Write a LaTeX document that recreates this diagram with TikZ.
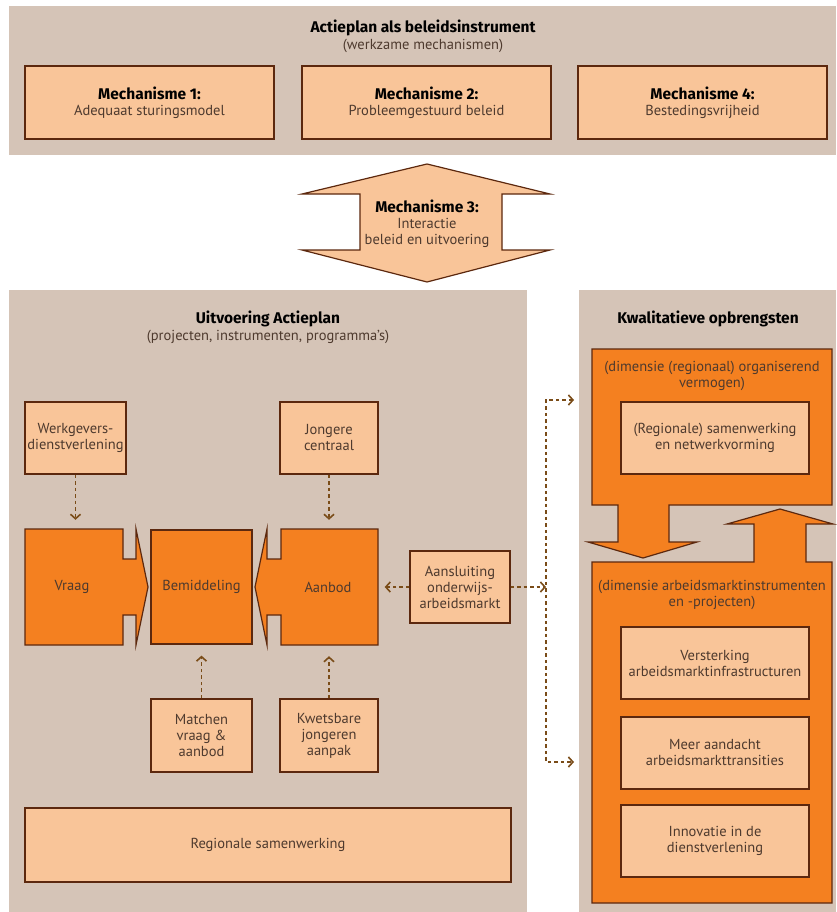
\documentclass[tikz,border=0pt]{standalone}
\usepackage{fontspec}
\setmainfont{PT Sans}
\newfontfamily\headfont{Fira Sans}
\usetikzlibrary{arrows.meta,positioning,calc}

\definecolor{panelbg}{RGB}{213,196,183}
\definecolor{lightfill}{RGB}{249,197,153}
\definecolor{orangefill}{RGB}{244,128,32}
\definecolor{edgebrown}{RGB}{92,40,14}
\definecolor{textbrown}{RGB}{78,58,46}
\definecolor{dashbrown}{RGB}{122,76,24}

\newcommand{\mechhead}[1]{\textcolor{black}{\fontsize{15.5}{17}\selectfont\headfont\bfseries #1}}

\begin{document}
\begin{tikzpicture}[x=1pt, y=-1pt, >={Straight Barb[length=4.5pt,width=10pt]},
  font=\fontsize{14.5}{16}\selectfont, text=textbrown]
\tikzstyle{lightbox}=[draw=edgebrown, fill=lightfill, line width=1.2pt, align=center, inner sep=2pt]
\tikzstyle{orangeshape}=[draw=edgebrown, fill=orangefill, line width=1.2pt, line join=miter]
\tikzstyle{paneltitle}=[font=\fontsize{15.5}{17}\selectfont\headfont\bfseries, text=black]
\tikzstyle{dline}=[dashbrown, line width=1.6pt, dash pattern=on 3.5pt off 3pt]
\useasboundingbox (0,0) rectangle (836,912);

% panels
\fill[panelbg] (9,6) rectangle (836,155);
\fill[panelbg] (9,290) rectangle (527,912);
\fill[panelbg] (579,290) rectangle (836,912);

% top: mechanisms
\node[paneltitle] (tplan) at (423,28) {Actieplan als beleidsinstrument};
\node (tplansub) at (423,46) {(werkzame mechanismen)};
\node[lightbox, minimum width=249, minimum height=73] (mech1) at (149.5,102.5)
  {\mechhead{Mechanisme 1:}\\Adequaat sturingsmodel};
\node[lightbox, minimum width=249, minimum height=73] (mech2) at (426.5,102.5)
  {\mechhead{Mechanisme 2:}\\Probleemgestuurd beleid};
\node[lightbox, minimum width=249, minimum height=73] (mech4) at (702.5,102.5)
  {\mechhead{Mechanisme 4:}\\Bestedingsvrijheid};

% double arrow
\draw[draw=edgebrown, fill=lightfill, line width=1.2pt]
  (427,164) -- (550,194) -- (502,194) -- (502,250) -- (550,250) -- (427,282)
  -- (302,250) -- (360,250) -- (360,194) -- (302,194) -- cycle;
\node[align=center] (mech3) at (427,224)
  {\mechhead{Mechanisme 3:}\\Interactie\\beleid en uitvoering};

% left panel
\node[paneltitle] (tuitv) at (268,319) {Uitvoering Actieplan};
\node (tuitvsub) at (268,337) {(projecten, instrumenten, programma's)};

\node[lightbox, minimum width=101, minimum height=72] (werkg) at (75.5,438)
  {Werkgevers-\\dienstverlening};
\node[lightbox, minimum width=98, minimum height=72] (jong) at (329,438)
  {Jongere\\centraal};

\draw[orangeshape] (25,529) -- (123,529) -- (123,559) -- (136,559) -- (136,529)
  -- (148,587) -- (136,645) -- (136,615) -- (123,615) -- (123,645) -- (25,645) -- cycle;
\node[minimum width=98, minimum height=116] (vraag) at (72,587) {Vraag};
\draw[orangeshape] (378,529) -- (281,529) -- (281,559) -- (267,559) -- (267,529)
  -- (255,587) -- (267,645) -- (267,615) -- (281,615) -- (281,645) -- (378,645) -- cycle;
\node[minimum width=97, minimum height=116] (aanbod) at (328,587) {Aanbod};
\node[orangeshape, minimum width=101, minimum height=114] (bemid) at (201.5,587) {Bemiddeling};

\node[lightbox, minimum width=100, minimum height=72] (aansl) at (460,587)
  {Aansluiting\\onderwijs-\\arbeidsmarkt};
\node[lightbox, minimum width=101, minimum height=73] (match) at (201.5,735.5)
  {Matchen\\vraag \&\\aanbod};
\node[lightbox, minimum width=98, minimum height=73] (kwets) at (329,735.5)
  {Kwetsbare\\jongeren\\aanpak};
\node[lightbox, minimum width=486, minimum height=74] (regio) at (268,845)
  {Regionale samenwerking};

\draw[dline, ->, shorten >=9pt] (werkg.south) -- (werkg.south |- vraag.north);
\draw[dline, ->, shorten >=9pt] (jong.south) -- (jong.south |- aanbod.north);
\draw[dline, ->, shorten >=11pt] (match.north) -- (bemid.south);
\draw[dline, ->, shorten >=11pt] (kwets.north) -- (kwets.north |- aanbod.south);
\draw[dline, ->, shorten >=8pt] (aansl.west) -- (aanbod.east);

% links to the right panel
\coordinate (splitmid) at (546,587);
\coordinate (splittop) at (574,400);
\coordinate (splitbot) at (574,762);
\draw[dline, ->] (aansl.east) -- (splitmid);
\draw[dline, <->] (splittop) -| (splitbot -| splitmid) -- (splitbot);

% right panel
\node[paneltitle] (tkwal) at (708,319) {Kwalitatieve opbrengsten};
\draw[orangeshape] (592,349) -- (832,349) -- (832,505) -- (669,505) -- (669,542)
  -- (697,542) -- (643,558) -- (588,542) -- (618,542) -- (618,505) -- (592,505) -- cycle;
\draw[orangeshape] (592,562) -- (754,562) -- (754,524) -- (727,524) -- (780,509)
  -- (833,524) -- (806,524) -- (806,562) -- (832,562) -- (832,903) -- (592,903) -- cycle;
\node[align=center] (dimorg) at (712,376) {(dimensie (regionaal) organiserend\\vermogen)};
\node[lightbox, minimum width=188, minimum height=72] (samenw) at (715,438)
  {(Regionale) samenwerking\\en netwerkvorming};
\node[align=center] (diminstr) at (712,595) {(dimensie arbeidsmarktinstrumenten\\en -projecten)};
\node[lightbox, minimum width=188, minimum height=72] (verst) at (715,663)
  {Versterking\\arbeidsmarktinfrastructuren};
\node[lightbox, minimum width=188, minimum height=72] (aandacht) at (715,753)
  {Meer aandacht\\arbeidsmarkttransities};
\node[lightbox, minimum width=188, minimum height=72] (innov) at (715,841)
  {Innovatie in de\\dienstverlening};
\end{tikzpicture}
\end{document}
